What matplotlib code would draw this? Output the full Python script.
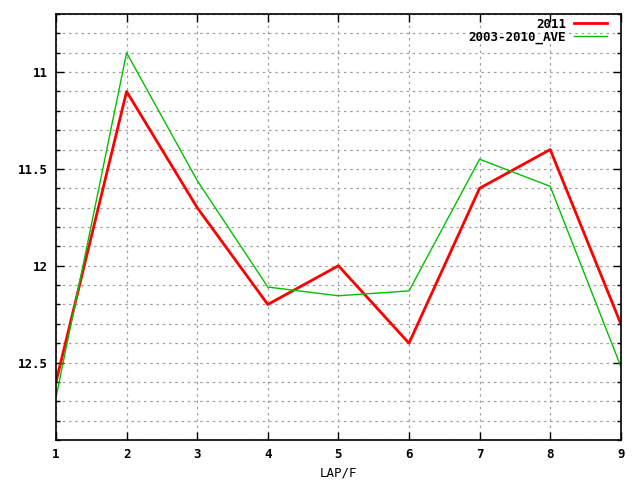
import numpy as np
import matplotlib
matplotlib.use("Agg")
import matplotlib.pyplot as plt
from matplotlib.ticker import MultipleLocator

laps = [1, 2, 3, 4, 5, 6, 7, 8, 9]
y2011 = [12.6, 11.1, 11.7, 12.2, 12.0, 12.4, 11.6, 11.4, 12.3]
y_ave = [12.68, 10.9, 11.56, 12.11, 12.155, 12.13, 11.45, 11.59, 12.52]

plt.rcParams['font.family'] = 'DejaVu Sans Mono'
plt.rcParams['font.weight'] = 'bold'
plt.rcParams['font.size'] = 9

fig = plt.figure(figsize=(6.4, 4.8), dpi=100)
ax = fig.add_axes([0.0875, 0.0833, 0.8825, 0.8875])

ax.plot(laps, y2011, color='#ff0000', linewidth=2, label='2011')
ax.plot(laps, y_ave, color='#00c000', linewidth=1, label='2003-2010_AVE')

ax.set_xlim(1, 9)
ax.set_ylim(12.9, 10.7)
ax.xaxis.set_major_locator(MultipleLocator(1))
ax.yaxis.set_major_locator(MultipleLocator(0.5))
ax.yaxis.set_minor_locator(MultipleLocator(0.1))
ax.yaxis.set_major_formatter(plt.FuncFormatter(lambda v, p: ('%g' % v)))

ax.grid(True, which='both', axis='y', color='#a0a0a0', linestyle=(0, (2, 3)), linewidth=0.9)
ax.grid(True, which='major', axis='x', color='#a0a0a0', linestyle=(0, (2, 3)), linewidth=0.9)

ax.tick_params(which='both', direction='in', top=True, right=True, colors='black')
ax.tick_params(which='major', length=6, width=1, pad=6)
ax.tick_params(which='minor', length=3, width=1)
for s in ax.spines.values():
    s.set_linewidth(1.2)

ax.set_xlabel('LAP/F', labelpad=4)

leg = ax.legend(loc='upper right', bbox_to_anchor=(0.9894, 1.0094), frameon=False,
                markerfirst=False, handlelength=2.7, borderaxespad=0.2,
                labelspacing=0.0, handletextpad=0.6)

fig.savefig('out.png', dpi=100)
